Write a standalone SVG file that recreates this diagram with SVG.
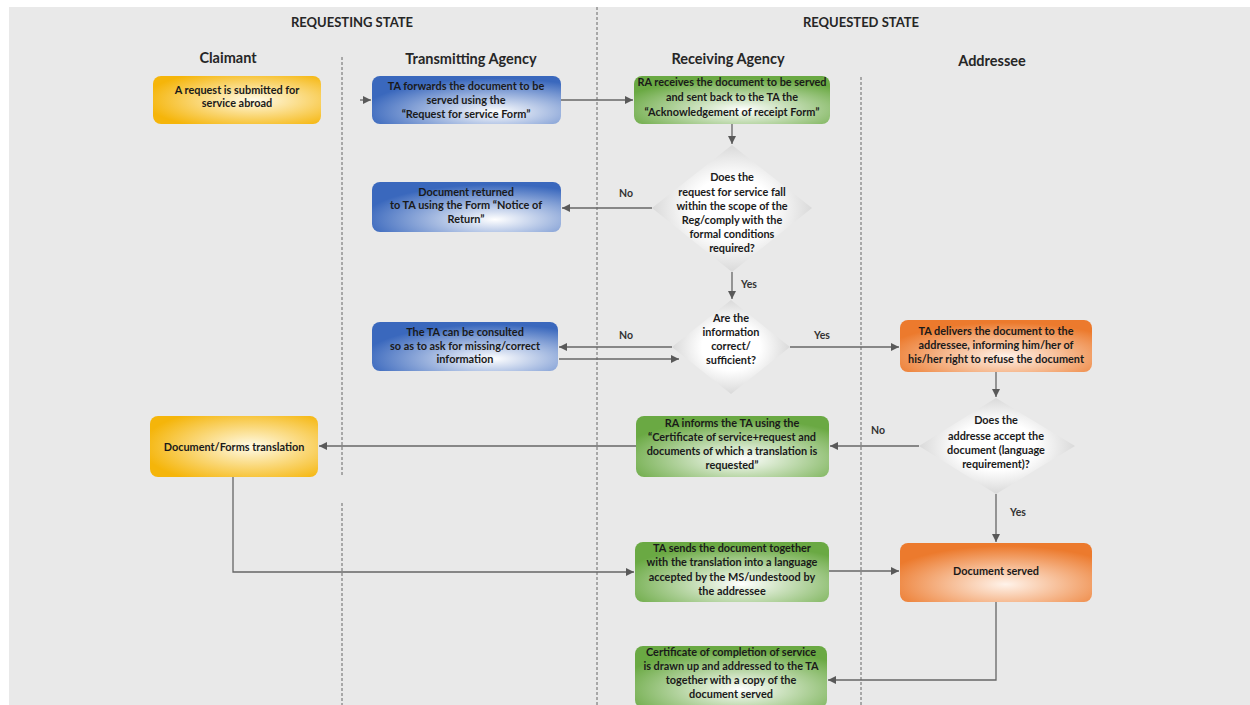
<svg xmlns="http://www.w3.org/2000/svg" width="1250" height="705" viewBox="0 0 1250 705">
<style>
.t{font-family:Lato,"Liberation Sans",sans-serif;font-weight:bold;font-size:10.9px;fill:#1a1a1a;text-anchor:middle}
.h{font-family:Lato,"Liberation Sans",sans-serif;font-weight:bold;font-size:13px;fill:#262626;text-anchor:middle}
.l{font-family:Lato,"Liberation Sans",sans-serif;font-weight:bold;font-size:14.5px;fill:#262626;text-anchor:middle}
.lab{font-family:Lato,"Liberation Sans",sans-serif;font-weight:bold;font-size:10.5px;fill:#333;text-anchor:middle}
.div{stroke:#666;stroke-width:1;stroke-dasharray:3,2;fill:none}
.c{stroke:#666;stroke-width:1.3;fill:none;marker-end:url(#ah)}
.y{fill:url(#gy)}.b{fill:url(#gb)}.g{fill:url(#gg)}.o{fill:url(#go)}.d{fill:url(#gd)}
</style>
<defs>
<marker id="ah" markerUnits="userSpaceOnUse" markerWidth="9" markerHeight="9" refX="8" refY="4" orient="auto"><path d="M0,0 L8,4 L0,8 z" fill="#595959"/></marker>
<radialGradient id="gy" cx="0.6" cy="0.5" r="0.65"><stop offset="0" stop-color="#fffbe8"/><stop offset="1" stop-color="#f5b50a"/></radialGradient>
<radialGradient id="gb" cx="0.65" cy="0.75" r="0.7"><stop offset="0" stop-color="#ffffff"/><stop offset="1" stop-color="#3a68bd"/></radialGradient>
<radialGradient id="gg" cx="0.55" cy="0.7" r="0.65"><stop offset="0" stop-color="#ffffff"/><stop offset="1" stop-color="#6aa943"/></radialGradient>
<radialGradient id="go" cx="0.55" cy="0.7" r="0.65"><stop offset="0" stop-color="#fff3ea"/><stop offset="1" stop-color="#ec7a2d"/></radialGradient>
<radialGradient id="gd" cx="0.5" cy="0.5" r="0.55"><stop offset="0.45" stop-color="#ffffff"/><stop offset="1" stop-color="#d2d2d2"/></radialGradient>
</defs>
<rect x="9" y="7" width="1241" height="698" fill="#e9e9e9"/>
<g id="dividers">
<line class="div" x1="597" y1="7" x2="597" y2="705"/>
<line class="div" x1="342" y1="57" x2="342" y2="476"/>
<line class="div" x1="342" y1="503" x2="342" y2="705"/>
<line class="div" x1="861" y1="77" x2="861" y2="705"/>
</g>
<g id="headers">
<text class="h" x="352" y="27">REQUESTING STATE</text>
<text class="h" x="861" y="27">REQUESTED STATE</text>
<text class="l" x="228" y="63">Claimant</text>
<text class="l" x="471" y="64">Transmitting Agency</text>
<text class="l" x="728" y="64">Receiving Agency</text>
<text class="l" x="992" y="66">Addressee</text>
</g>
<g id="connectors">
<path class="c" d="M360,100 L371,100"/>
<path class="c" d="M561,100 L633,100"/>
<path class="c" d="M732,124 L732,144"/>
<path class="c" d="M652,208 L562,208"/>
<path class="c" d="M732,272 L732,299"/>
<path class="c" d="M672,347 L559,347"/>
<path class="c" d="M559,359 L679,359"/>
<path class="c" d="M790,347 L899,347"/>
<path class="c" d="M996,372 L996,397"/>
<path class="c" d="M919,446 L830,446"/>
<path class="c" d="M636,446 L319,446"/>
<path class="c" d="M233,477 L233,572 L634,572"/>
<path class="c" d="M829,571 L899,571"/>
<path class="c" d="M996,494 L996,542"/>
<path class="c" d="M996,602 L996,680 L828,680"/>
<text class="lab" x="626" y="197">No</text>
<text class="lab" x="749" y="288">Yes</text>
<text class="lab" x="626" y="339">No</text>
<text class="lab" x="822" y="339">Yes</text>
<text class="lab" x="878" y="434">No</text>
<text class="lab" x="1018" y="516">Yes</text>
</g>
<g id="n1"><rect class="y" x="153" y="76" width="168" height="48" rx="8"/>
<text class="t" x="237" y="94">A request is submitted for</text><text class="t" x="237" y="107">service abroad</text></g>
<g id="n2"><rect class="b" x="372" y="76" width="189" height="48" rx="8"/>
<text class="t" x="466" y="90">TA forwards the document to be</text><text class="t" x="466" y="104">served using the</text><text class="t" x="466" y="118">“Request for service Form”</text></g>
<g id="n3"><rect class="g" x="634" y="76" width="196" height="48" rx="8"/>
<text class="t" x="732" y="86">RA receives the document to be served</text><text class="t" x="732" y="101">and sent back to the TA the</text><text class="t" x="732" y="116">“Acknowledgement of receipt Form”</text></g>
<g id="n4"><polygon class="d" points="732,145 812,208 732,272 652,208"/>
<text class="t" x="732" y="181">Does the</text><text class="t" x="732" y="196">request for service fall</text><text class="t" x="732" y="210">within the scope of the</text><text class="t" x="732" y="224">Reg/comply with the</text><text class="t" x="732" y="238">formal conditions</text><text class="t" x="732" y="252">required?</text></g>
<g id="n5"><rect class="b" x="372" y="182" width="189" height="50" rx="8"/>
<text class="t" x="466" y="196">Document returned</text><text class="t" x="466" y="209">to TA using the Form “Notice of</text><text class="t" x="466" y="223">Return”</text></g>
<g id="n6"><polygon class="d" points="731,300 790,347 731,394 672,347"/>
<text class="t" x="731" y="322">Are the</text><text class="t" x="731" y="336">information</text><text class="t" x="731" y="350">correct/</text><text class="t" x="731" y="364">sufficient?</text></g>
<g id="n7"><rect class="b" x="372" y="322" width="186" height="49" rx="8"/>
<text class="t" x="465" y="336">The TA can be consulted</text><text class="t" x="465" y="350">so as to ask for missing/correct</text><text class="t" x="465" y="363">information</text></g>
<g id="n8"><rect class="o" x="900" y="320" width="192" height="52" rx="8"/>
<text class="t" x="996" y="335">TA delivers the document to the</text><text class="t" x="996" y="349">addressee, informing him/her of</text><text class="t" x="996" y="363">his/her right to refuse the document</text></g>
<g id="n9"><polygon class="d" points="996,398 1075,446 996,494 919,446"/>
<text class="t" x="996" y="424">Does the</text><text class="t" x="996" y="440">addresse accept the</text><text class="t" x="996" y="454">document (language</text><text class="t" x="996" y="468">requirement)?</text></g>
<g id="n10"><rect class="g" x="636" y="416" width="193" height="61" rx="8"/>
<text class="t" x="732" y="427">RA informs the TA  using the</text><text class="t" x="732" y="441">“Certificate of service+request and</text><text class="t" x="732" y="455">documents of which a translation is</text><text class="t" x="732" y="469">requested”</text></g>
<g id="n11"><rect class="y" x="150" y="416" width="168" height="61" rx="8"/>
<text class="t" x="234" y="451">Document/Forms translation</text></g>
<g id="n12"><rect class="g" x="635" y="542" width="194" height="60" rx="8"/>
<text class="t" x="732" y="552">TA sends the document together</text><text class="t" x="732" y="566">with the translation into a language</text><text class="t" x="732" y="581">accepted by the MS/undestood by</text><text class="t" x="732" y="595">the addressee</text></g>
<g id="n13"><rect class="o" x="900" y="543" width="192" height="59" rx="8"/>
<text class="t" x="996" y="575">Document served</text></g>
<g id="n14"><rect class="g" x="635" y="646" width="192" height="62" rx="8"/>
<text class="t" x="731" y="656">Certificate of completion of service</text><text class="t" x="731" y="670">is drawn up and addressed to the TA</text><text class="t" x="731" y="684">together with a copy of the</text><text class="t" x="731" y="698">document served</text></g>
</svg>
